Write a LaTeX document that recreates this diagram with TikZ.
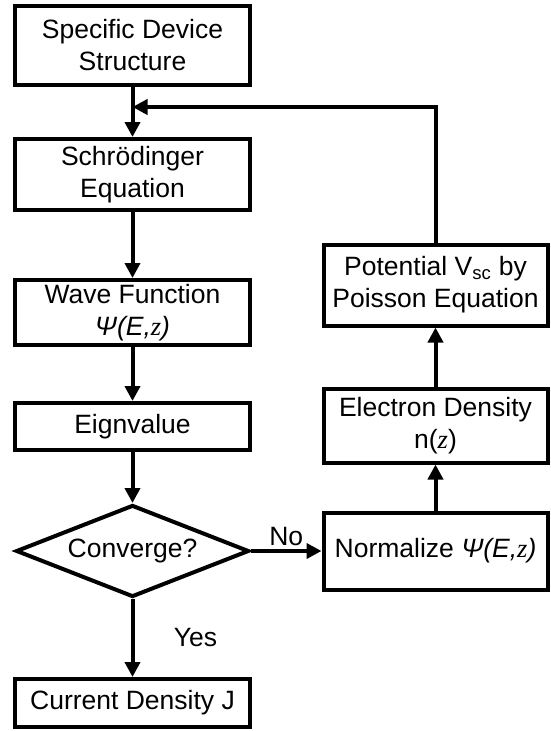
\documentclass[tikz,border=0pt]{standalone}
\usepackage{fontspec}
\setmainfont{Liberation Sans}
\newfontfamily\zfont{Liberation Serif}
\usetikzlibrary{arrows.meta,positioning,shapes.geometric}
\tikzset{
  block/.style={rectangle, draw, line width=4pt, minimum width=235pt, inner sep=2pt, align=center, font=\fontsize{26.5}{32}\selectfont},
  rblock/.style={block, minimum width=224pt},
  decision/.style={diamond, draw, line width=4pt, aspect=2.5, minimum width=233pt, minimum height=92pt, inner sep=0pt, font=\fontsize{26.5}{32}\selectfont},
  flow/.style={line width=4pt, -{Triangle[length=15pt,width=15pt]}},
  lbl/.style={font=\fontsize{26.5}{32}\selectfont}
}
\newcommand{\wavefn}{\textit{Ψ(E,}{\zfont\itshape z}\textit{)}}

\begin{document}
\begin{tikzpicture}[on grid,auto]
   \useasboundingbox (0,0) rectangle (550pt,-731pt);
   \node[block, minimum height=79pt] (spec) at (132.5pt,-45.5pt) {Specific Device\\Structure};
   \node[block, minimum height=71pt] (schr) [below=129pt of spec] {Schrödinger\\Equation};
   \node[block, minimum height=65pt] (wave) [below=138pt of schr] {Wave Function\\\wavefn};
   \node[block, minimum height=47pt] (eig) [below=114pt of wave] {Eignvalue};
   \node[decision] (conv) [below=124.5pt of eig] {Converge?};
   \node[block, minimum height=48pt] (curr) [below=152pt of conv] {Current Density J};
   \node[rblock, minimum height=77pt] (norm) [right=303pt of conv] {Normalize \wavefn};
   \node[rblock, minimum height=74pt] (elec) [above=125.5pt of norm] {Electron Density\\n({\zfont\itshape z})};
   \node[rblock, minimum height=81pt] (pot) [above=140.5pt of elec] {Potential V\textsubscript{sc} by\\Poisson Equation};
   \coordinate (merge) at ([yshift=-20pt]spec.south);
    \path[flow]
    (spec) edge (schr)
    (schr) edge (wave)
    (wave) edge (eig)
    (eig) edge (conv)
    (conv) edge node[lbl, right=36pt] {Yes} (curr)
    (conv) edge node[lbl, above] {No} (norm)
    (norm) edge (elec)
    (elec) edge (pot);
   \draw[flow] (pot.north) |- (merge);
\end{tikzpicture}
\end{document}
